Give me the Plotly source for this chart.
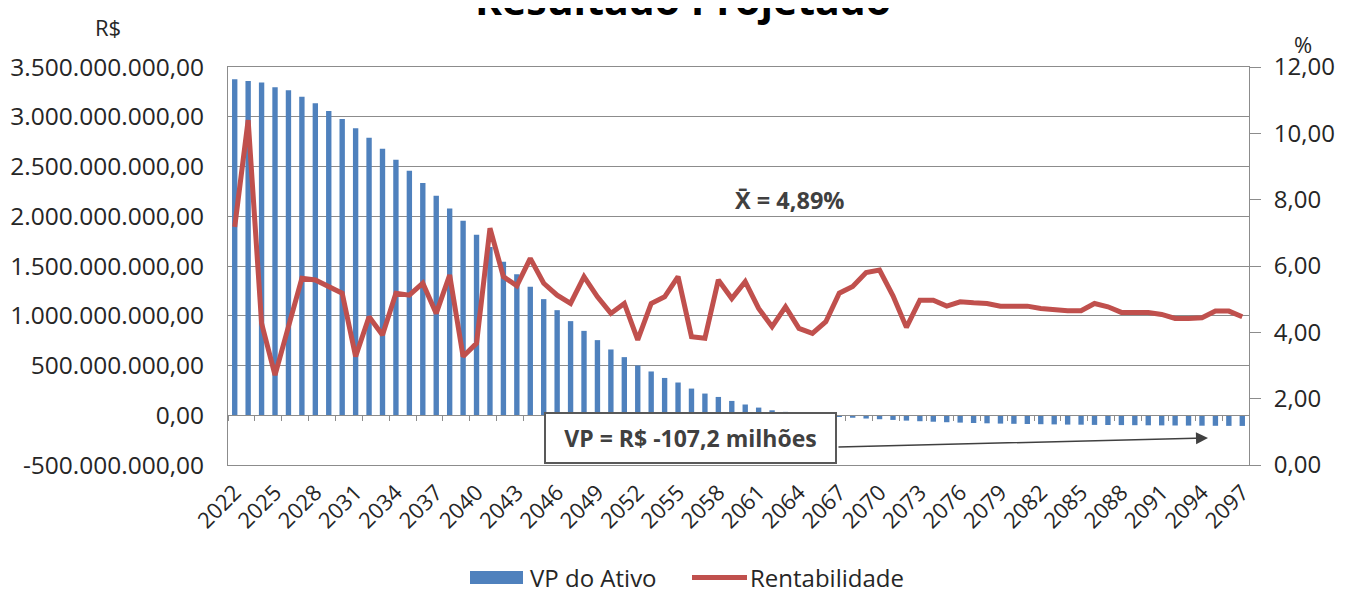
import plotly.graph_objects as go

years = [str(y) for y in range(2022, 2098)]

vp_ativo = [
    3.377e9, 3.360e9, 3.343e9, 3.297e9, 3.267e9, 3.202e9, 3.136e9, 3.058e9, 2.978e9, 2.884e9,
    2.790e9, 2.679e9, 2.568e9, 2.458e9, 2.334e9, 2.206e9, 2.079e9, 1.955e9, 1.814e9, 1.690e9,
    1.542e9, 1.418e9, 1.291e9, 1.167e9, 1.056e9, 0.946e9, 0.848e9, 0.755e9, 0.661e9, 0.584e9,
    0.500e9, 0.440e9, 0.375e9, 0.329e9, 0.268e9, 0.218e9, 0.184e9, 0.144e9, 0.108e9, 0.077e9,
    0.050e9, 0.034e9, 0.023e9, 0.010e9, -0.005e9,
    -15e6, -25e6, -33e6, -40e6, -47e6, -54e6, -60e6, -65e6, -70e6, -74e6,
    -78e6, -81e6, -84e6, -86e6, -88e6, -90e6, -92e6, -94e6, -95e6, -97e6,
    -98e6, -99e6, -100e6, -101e6, -102e6, -103e6, -104e6, -105e6, -106e6, -106.6e6,
    -107.2e6,
]

rentabilidade = [
    7.18, 10.40, 4.27, 2.71, 4.17, 5.63, 5.58, 5.40, 5.18, 3.27,
    4.47, 3.92, 5.18, 5.12, 5.48, 4.57, 5.73, 3.27, 3.67, 7.14,
    5.68, 5.40, 6.23, 5.48, 5.12, 4.87, 5.68, 5.07, 4.57, 4.87,
    3.77, 4.87, 5.07, 5.68, 3.87, 3.82, 5.58, 5.02, 5.53, 4.72,
    4.17, 4.77, 4.12, 3.97, 4.32, 5.18, 5.38, 5.80, 5.88, 5.10,
    4.15, 4.97, 4.97, 4.79, 4.92, 4.89, 4.87, 4.79, 4.79, 4.79,
    4.72, 4.67, 4.65, 4.65, 4.87, 4.77, 4.60, 4.60, 4.60, 4.54,
    4.42, 4.42, 4.44, 4.64, 4.64, 4.47,
]

left_tickvals = [-500e6, 0, 500e6, 1000e6, 1500e6, 2000e6, 2500e6, 3000e6, 3500e6]
left_ticktext = ["-500.000.000,00", "0,00", "500.000.000,00", "1.000.000.000,00",
                 "1.500.000.000,00", "2.000.000.000,00", "2.500.000.000,00",
                 "3.000.000.000,00", "3.500.000.000,00"]
right_tickvals = [0, 2, 4, 6, 8, 10, 12]
right_ticktext = ["0,00", "2,00", "4,00", "6,00", "8,00", "10,00", "12,00"]
x_label_years = years[::3]

FONT = "Open Sans"
TXT = "#262626"
GRID = "#8c8c8c"
BLUE = "#4F81BD"
RED = "#C0504D"

# plot-area geometry in page pixels; the page body adds an 8px offset
OFF = 8
L, R, T, B = 228, 1249, 67, 465
W, H = R - L, B - T


def px(x):
    return (x - L) / W


def py(y):
    return (B - y) / H


fig = go.Figure()
fig.add_trace(go.Bar(x=years, y=vp_ativo, name="VP do Ativo",
                     marker=dict(color=BLUE, line=dict(width=0)),
                     xaxis="x", yaxis="y", showlegend=False))
fig.add_trace(go.Scatter(x=years, y=rentabilidade, name="Rentabilidade", mode="lines",
                         line=dict(color=RED, width=5), xaxis="x", yaxis="y2",
                         showlegend=False))
# invisible trace to host the zero-line category axis
fig.add_trace(go.Scatter(x=years, y=[None] * len(years), xaxis="x2", yaxis="y",
                         showlegend=False, hoverinfo="skip"))

fig.update_layout(
    width=1357, height=595,
    paper_bgcolor="white", plot_bgcolor="white",
    margin=dict(l=L - OFF, r=1357 - R + OFF, t=T - OFF, b=595 - B + OFF, autoexpand=False),
    font=dict(family=FONT, size=20, color=TXT),
    bargap=0.6,
    showlegend=False,
    xaxis=dict(type="category", categoryorder="array", categoryarray=years,
               range=[-0.5, len(years) - 0.5], automargin=False,
               tickmode="array", tickvals=x_label_years, ticktext=x_label_years,
               tickangle=-45, tickfont=dict(size=22, color=TXT),
               showline=True, linecolor=GRID, linewidth=1, mirror=True,
               showgrid=False, ticks="outside", ticklen=5, tickcolor="rgba(0,0,0,0)"),
    xaxis2=dict(type="category", categoryorder="array", categoryarray=years,
                range=[-0.5, len(years) - 0.5], overlaying="x", anchor="free", position=0.125,
                showline=True, linecolor=GRID, linewidth=1, showgrid=False, automargin=False,
                tickson="boundaries", ticks="outside", ticklen=5, tickcolor=GRID,
                showticklabels=False),
    yaxis=dict(range=[-500e6, 3500e6], tickmode="array", tickvals=left_tickvals,
               ticktext=left_ticktext, showgrid=True, gridcolor=GRID, gridwidth=1,
               zeroline=False, showline=True, linecolor=GRID, mirror=True, automargin=False,
               ticks="outside", ticklen=18, tickcolor="rgba(0,0,0,0)",
               tickfont=dict(size=24.5, color=TXT)),
    yaxis2=dict(range=[0, 12], overlaying="y", side="right", tickmode="array",
                tickvals=right_tickvals, ticktext=right_ticktext, showgrid=False,
                zeroline=False, showline=True, linecolor=GRID, ticks="outside",
                ticklen=11, tickcolor=GRID, ticklabelstandoff=8, automargin=False,
                tickfont=dict(size=24, color=TXT)),
    shapes=[
        dict(type="rect", xref="paper", yref="paper", x0=px(470), x1=px(523),
             y0=py(571), y1=py(584), fillcolor=BLUE, line=dict(width=0)),
        dict(type="line", xref="paper", yref="paper", x0=px(692), x1=px(747),
             y0=py(577.5), y1=py(577.5), line=dict(color=RED, width=5)),
    ],
    annotations=[
        dict(text="<b>Resultado Projetado</b>", xref="paper", yref="paper",
             x=px(683), y=py(29), xanchor="center", yanchor="bottom",
             showarrow=False, font=dict(size=41, color="black")),
        dict(text="VP do Ativo", xref="paper", yref="paper", x=px(528), y=py(577),
             xanchor="left", yanchor="middle", showarrow=False,
             font=dict(size=24, color=TXT)),
        dict(text="Rentabilidade", xref="paper", yref="paper", x=px(748), y=py(577),
             xanchor="left", yanchor="middle", showarrow=False,
             font=dict(size=24, color=TXT)),
        dict(text="R$", xref="paper", yref="paper", x=px(108), y=py(27),
             xanchor="center", yanchor="middle",
             showarrow=False, font=dict(size=22, color=TXT)),
        dict(text="%", xref="paper", yref="paper", x=px(1303), y=py(44),
             xanchor="center", yanchor="middle",
             showarrow=False, font=dict(size=22, color=TXT)),
        dict(text="<b>X\u0304 = 4,89%</b>", xref="paper", yref="paper", x=px(790), y=py(200),
             xanchor="center", yanchor="middle",
             showarrow=False, font=dict(size=23.5, color="#404040")),
        dict(text="", xref="paper", yref="paper", x=px(1208), y=py(438),
             showarrow=True, ax=-371, ay=9, axref="pixel", ayref="pixel",
             arrowhead=2, arrowsize=1.6, arrowwidth=1.5, arrowcolor="#404040"),
        dict(text="<b>VP = R$ -107,2 milhões</b>", xref="paper", yref="paper",
             x=px(690.5), y=py(438), xanchor="center", yanchor="middle",
             showarrow=False, width=287, height=46,
             bgcolor="white", bordercolor="#595959", borderwidth=2,
             font=dict(size=23, color="#404040")),
    ],
)

fig.write_html("out.html")
